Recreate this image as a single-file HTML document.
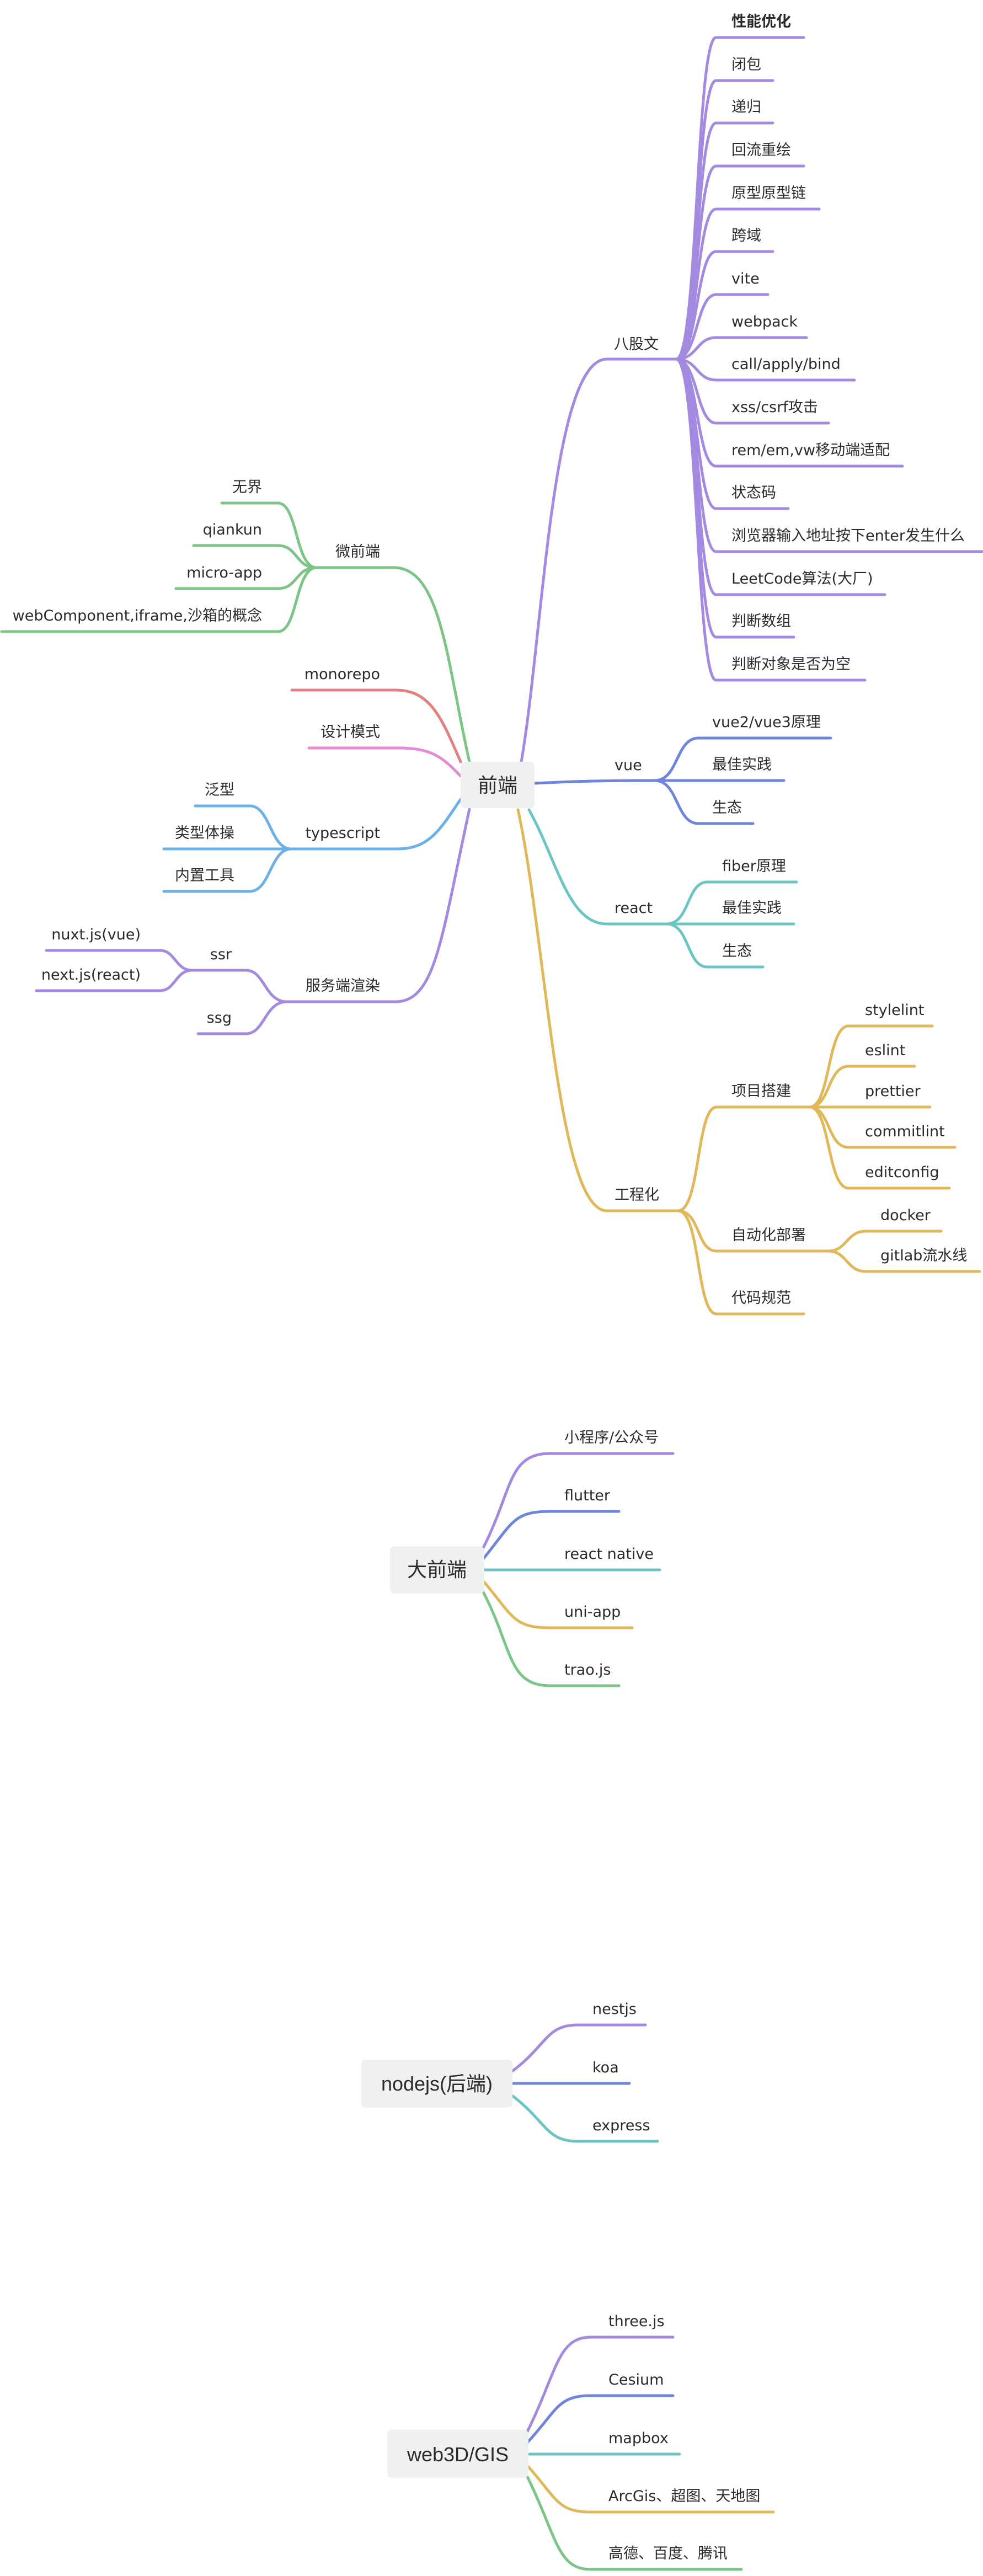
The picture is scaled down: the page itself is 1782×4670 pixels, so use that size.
<!DOCTYPE html>
<html><head><meta charset="utf-8"><style>
html,body{margin:0;padding:0;background:#fff;}
svg{display:block;}
text{font-family:"DejaVu Sans","Noto Sans CJK SC",sans-serif;font-size:27px;fill:#2b2b2b;}
.r{font-family:"Liberation Sans","Noto Sans CJK SC",sans-serif;font-size:36px;}
path{fill:none;stroke-width:5;stroke-linecap:round;}
.pu{stroke:#a38ae0}.bl{stroke:#6f84db}.te{stroke:#6cc5c5}.ye{stroke:#e0b85a}.gr{stroke:#7cc586}.re{stroke:#e27f7f}.pi{stroke:#e68ad8}.lb{stroke:#6bb0e8}
</style></head><body>
<svg width="1782" height="4670" viewBox="0 0 1782 4670" xmlns="http://www.w3.org/2000/svg">
<!-- 前端 -->
<path class="pu" d="M945 1381 C985 1150 1000 651 1100 651 H1226"/>
<text x="1113" y="633">八股文</text>
<g class="pu">
<path d="M1226 651 C1265 651 1262 68 1298 68 H1457"/>
<path d="M1226 651 C1265 651 1262 146 1298 146 H1401"/>
<path d="M1226 651 C1265 651 1262 223 1298 223 H1401"/>
<path d="M1226 651 C1265 651 1262 301 1298 301 H1457"/>
<path d="M1226 651 C1265 651 1262 379 1298 379 H1485"/>
<path d="M1226 651 C1265 651 1262 456 1298 456 H1401"/>
<path d="M1226 651 C1265 651 1262 534 1298 534 H1392"/>
<path d="M1226 651 C1265 651 1262 612 1298 612 H1462"/>
<path d="M1226 651 C1265 651 1262 689 1298 689 H1549"/>
<path d="M1226 651 C1265 651 1262 767 1298 767 H1502"/>
<path d="M1226 651 C1265 651 1262 845 1298 845 H1636"/>
<path d="M1226 651 C1265 651 1262 922 1298 922 H1429"/>
<path d="M1226 651 C1265 651 1262 1000 1298 1000 H1780"/>
<path d="M1226 651 C1265 651 1262 1078 1298 1078 H1604"/>
<path d="M1226 651 C1265 651 1262 1155 1298 1155 H1439"/>
<path d="M1226 651 C1265 651 1262 1233 1298 1233 H1568"/>
</g>
<text x="1326" y="48" style="font-weight:bold">性能优化</text>
<text x="1326" y="126">闭包</text>
<text x="1326" y="203">递归</text>
<text x="1326" y="281">回流重绘</text>
<text x="1326" y="359">原型原型链</text>
<text x="1326" y="436">跨域</text>
<text x="1326" y="514">vite</text>
<text x="1326" y="592">webpack</text>
<text x="1326" y="669">call/apply/bind</text>
<text x="1326" y="747">xss/csrf攻击</text>
<text x="1326" y="825">rem/em,vw移动端适配</text>
<text x="1326" y="902">状态码</text>
<text x="1326" y="980">浏览器输入地址按下enter发生什么</text>
<text x="1326" y="1058">LeetCode算法(大厂)</text>
<text x="1326" y="1135">判断数组</text>
<text x="1326" y="1213">判断对象是否为空</text>

<!-- vue -->
<path class="bl" d="M969 1420 C1050 1416 1100 1415 1187 1415"/>
<text x="1114" y="1396">vue</text>
<g class="bl">
<path d="M1187 1415 C1230 1415 1225 1338 1266 1338 H1506"/>
<path d="M1187 1415 H1421"/>
<path d="M1187 1415 C1230 1415 1225 1493 1266 1493 H1365"/>
</g>
<text x="1291" y="1318">vue2/vue3原理</text>
<text x="1291" y="1395">最佳实践</text>
<text x="1291" y="1473">生态</text>

<!-- react -->
<path class="te" d="M959 1468 C1010 1560 1030 1675 1100 1675 H1209"/>
<text x="1114" y="1655">react</text>
<g class="te">
<path d="M1209 1675 C1250 1675 1245 1599 1282 1599 H1444"/>
<path d="M1209 1675 H1439"/>
<path d="M1209 1675 C1250 1675 1245 1753 1282 1753 H1383"/>
</g>
<text x="1309" y="1579">fiber原理</text>
<text x="1309" y="1655">最佳实践</text>
<text x="1309" y="1733">生态</text>

<!-- 工程化 -->
<path class="ye" d="M939 1468 C990 1700 1010 2195 1100 2195 H1229"/>
<text x="1114" y="2175">工程化</text>
<g class="ye">
<path d="M1229 2195 C1270 2195 1262 2007 1299 2007 H1468"/>
<path d="M1229 2195 C1270 2195 1262 2268 1299 2268 H1502"/>
<path d="M1229 2195 C1270 2195 1262 2382 1299 2382 H1457"/>
<path d="M1468 2007 C1505 2007 1500 1860 1538 1860 H1690"/>
<path d="M1468 2007 C1505 2007 1500 1933 1538 1933 H1658"/>
<path d="M1468 2007 H1686"/>
<path d="M1468 2007 C1505 2007 1500 2080 1538 2080 H1731"/>
<path d="M1468 2007 C1505 2007 1500 2154 1538 2154 H1721"/>
<path d="M1502 2268 C1535 2268 1535 2232 1569 2232 H1706"/>
<path d="M1502 2268 C1535 2268 1535 2305 1569 2305 H1776"/>
</g>
<text x="1326" y="1987">项目搭建</text>
<text x="1326" y="2248">自动化部署</text>
<text x="1326" y="2362">代码规范</text>
<text x="1568" y="1840">stylelint</text>
<text x="1568" y="1913">eslint</text>
<text x="1568" y="1987">prettier</text>
<text x="1568" y="2060">commitlint</text>
<text x="1568" y="2134">editconfig</text>
<text x="1596" y="2212">docker</text>
<text x="1596" y="2285">gitlab流水线</text>

<!-- left: 微前端 -->
<path class="gr" d="M851 1381 C810 1200 800 1029 714 1029 H574"/>
<text x="689" y="1009" text-anchor="end">微前端</text>
<g class="gr">
<path d="M574 1029 C535 1029 540 912 504 912 H402"/>
<path d="M574 1029 C535 1029 540 989 504 989 H351"/>
<path d="M574 1029 C535 1029 540 1067 504 1067 H319"/>
<path d="M574 1029 C535 1029 540 1145 504 1145 H3"/>
</g>
<text x="475" y="892" text-anchor="end">无界</text>
<text x="475" y="969" text-anchor="end">qiankun</text>
<text x="475" y="1047" text-anchor="end">micro-app</text>
<text x="475" y="1125" text-anchor="end">webComponent,iframe,沙箱的概念</text>

<path class="re" d="M835 1381 C800 1300 780 1251 717 1251 H529"/>
<text x="689" y="1231" text-anchor="end">monorepo</text>
<path class="pi" d="M835 1407 C800 1370 780 1356 721 1356 H560"/>
<text x="689" y="1336" text-anchor="end">设计模式</text>

<path class="lb" d="M835 1449 C800 1500 780 1539 721 1539 H528"/>
<text x="689" y="1519" text-anchor="end">typescript</text>
<g class="lb">
<path d="M528 1539 C490 1539 490 1461 453 1461 H354"/>
<path d="M528 1539 H297"/>
<path d="M528 1539 C490 1539 490 1616 453 1616 H297"/>
</g>
<text x="425" y="1441" text-anchor="end">泛型</text>
<text x="425" y="1519" text-anchor="end">类型体操</text>
<text x="425" y="1596" text-anchor="end">内置工具</text>

<path class="pu" d="M851 1467 C800 1700 790 1816 717 1816 H520"/>
<text x="689" y="1796" text-anchor="end">服务端渲染</text>
<g class="pu">
<path d="M520 1816 C480 1816 480 1759 446 1759 H348"/>
<path d="M520 1816 C480 1816 480 1874 446 1874 H359"/>
<path d="M348 1759 C318 1759 318 1723 290 1723 H84"/>
<path d="M348 1759 C318 1759 318 1796 290 1796 H66"/>
</g>
<text x="420" y="1739" text-anchor="end">ssr</text>
<text x="420" y="1854" text-anchor="end">ssg</text>
<text x="255" y="1703" text-anchor="end">nuxt.js(vue)</text>
<text x="255" y="1776" text-anchor="end">next.js(react)</text>

<rect x="835" y="1381" width="134" height="84" rx="8" fill="#eff0f0"/>
<text class="r" x="902" y="1436" text-anchor="middle">前端</text>

<!-- 大前端 -->
<path class="pu" d="M876 2806 C930 2700 920 2635 998 2635 H1220"/>
<path class="bl" d="M876 2826 C930 2760 930 2740 998 2740 H1122"/>
<path class="te" d="M876 2846 H1196"/>
<path class="ye" d="M876 2866 C930 2930 930 2951 998 2951 H1146"/>
<path class="gr" d="M876 2886 C930 2990 920 3056 998 3056 H1122"/>
<rect x="707" y="2803" width="171" height="86" rx="8" fill="#eff0f0"/>
<text class="r" x="792" y="2858" text-anchor="middle">大前端</text>
<text x="1023" y="2615">小程序/公众号</text>
<text x="1023" y="2720">flutter</text>
<text x="1023" y="2826">react native</text>
<text x="1023" y="2931">uni-app</text>
<text x="1023" y="3036">trao.js</text>

<!-- nodejs -->
<path class="pu" d="M927 3756 C990 3710 990 3671 1046 3671 H1170"/>
<path class="bl" d="M927 3777 H1141"/>
<path class="te" d="M927 3798 C990 3845 990 3882 1046 3882 H1192"/>
<rect x="655" y="3734" width="274" height="87" rx="8" fill="#eff0f0"/>
<text class="r" x="792" y="3790" text-anchor="middle">nodejs(后端)</text>
<text x="1074" y="3651">nestjs</text>
<text x="1074" y="3757">koa</text>
<text x="1074" y="3862">express</text>

<!-- web3D -->
<path class="pu" d="M956 4408 C1010 4300 1010 4237 1071 4237 H1220"/>
<path class="bl" d="M956 4428 C1010 4370 1010 4343 1071 4343 H1220"/>
<path class="te" d="M956 4449 H1232"/>
<path class="ye" d="M956 4470 C1010 4530 1010 4554 1071 4554 H1402"/>
<path class="gr" d="M956 4490 C1010 4600 1010 4658 1071 4658 H1344"/>
<rect x="702" y="4405" width="256" height="87" rx="8" fill="#eff0f0"/>
<text class="r" x="830" y="4462" text-anchor="middle">web3D/GIS</text>
<text x="1103" y="4217">three.js</text>
<text x="1103" y="4323">Cesium</text>
<text x="1103" y="4429">mapbox</text>
<text x="1103" y="4534">ArcGis、超图、天地图</text>
<text x="1103" y="4638">高德、百度、腾讯</text>
</svg>
</body></html>
